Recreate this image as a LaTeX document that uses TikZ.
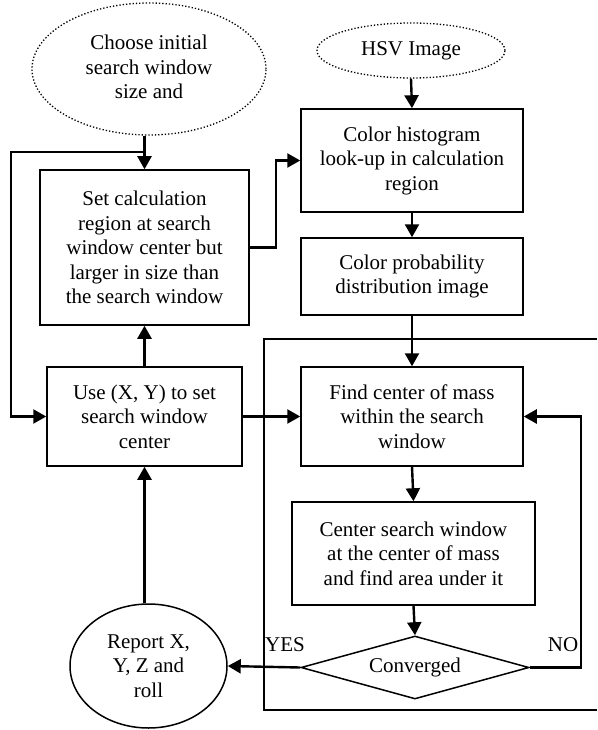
\documentclass[tikz,border=0pt]{standalone}
\usepackage{fontspec}
\setmainfont{Liberation Serif}
\usetikzlibrary{arrows.meta,shapes.geometric}
\begin{document}
\begin{tikzpicture}[x=1pt,y=-1pt,
  every node/.style={font=\fontsize{21}{24.5}\selectfont, align=center, inner sep=0pt},
  box/.style={draw, line width=1.5pt, rectangle},
  dotell/.style={draw, ellipse, dotted, line width=1.3pt},
  solell/.style={draw, ellipse, line width=1.5pt},
  dia/.style={draw, diamond, line width=1.5pt, shape aspect=3.6},
  arr/.style={line width=2.4pt, -{Triangle[length=13pt,width=14pt]}},
  frame/.style={line width=1.6pt}]
\useasboundingbox (0,0) rectangle (597,730);

% nodes
\node[dotell, minimum width=234pt, minimum height=132pt] (choose) at (149,69) {};
\node (choosetxt) at (149,67) {Choose initial\\search window\\size and};
\node[dotell, minimum width=188pt, minimum height=55pt] (hsv) at (411,50.5) {HSV Image};
\node[box, minimum width=209pt, minimum height=155pt] (set) at (144.5,247.5)
  {Set calculation\\region at search\\window center but\\larger in size than\\the search window};
\node[box, minimum width=222pt, minimum height=103pt] (hist) at (412,160.5)
  {Color histogram\\look-up in calculation\\region};
\node[box, minimum width=222pt, minimum height=77pt] (prob) at (412,276.5)
  {Color probability\\distribution image};
\node[box, minimum width=195pt, minimum height=99pt] (use) at (144.5,416.5)
  {Use (X, Y) to set\\search window\\center};
\node[box, minimum width=222pt, minimum height=99pt] (find) at (412,416.5)
  {Find center of mass\\within the search\\window};
\node[box, minimum width=243pt, minimum height=103pt] (cent) at (413.5,553.5)
  {Center search window\\at the center of mass\\and find area under it};
\node[dia, minimum width=228pt, minimum height=63pt] (conv) at (415,667.5) {Converged};
\node[solell, minimum width=157pt, minimum height=124pt] (rep) at (148.5,666)
  {Report X,\\Y, Z and\\roll};
\node (yes) at (285,645) {YES};
\node (no) at (563,645) {NO};

% frame
\coordinate (f1) at (597,339);
\coordinate (f2) at (264,339);
\coordinate (f3) at (264,710);
\coordinate (f4) at (597,710);
\draw[frame] (f1) -- (f2) -- (f3) -- (f4);

% connectors
\draw[arr] (set.north |- choose.south) -- (set.north);
\coordinate (j) at (144.5,152);
\draw[arr] (j) -| ([xshift=-35pt]use.west) -- (use.west);
\draw[arr] (use.north) -- (set.south);
\draw[arr] (use.east) -- (find.west);
\draw[arr] (set.east) -- ++(26,0) |- (hist.west);
\draw[arr] (hsv.south) -- (hist.north);
\draw[arr] (hist.south) -- (prob.north);
\draw[arr] (prob.south) -- (find.north);
\draw[arr] (find.south) -- (cent.north);
\draw[arr] (cent.south) -- (conv.north);
\draw[arr] (conv.east) -- ++(51,0) |- (find.east);
\draw[arr] (conv.west) -- (rep.east);
\draw[arr] (use.south |- rep.north) -- (use.south);
\end{tikzpicture}
\end{document}
